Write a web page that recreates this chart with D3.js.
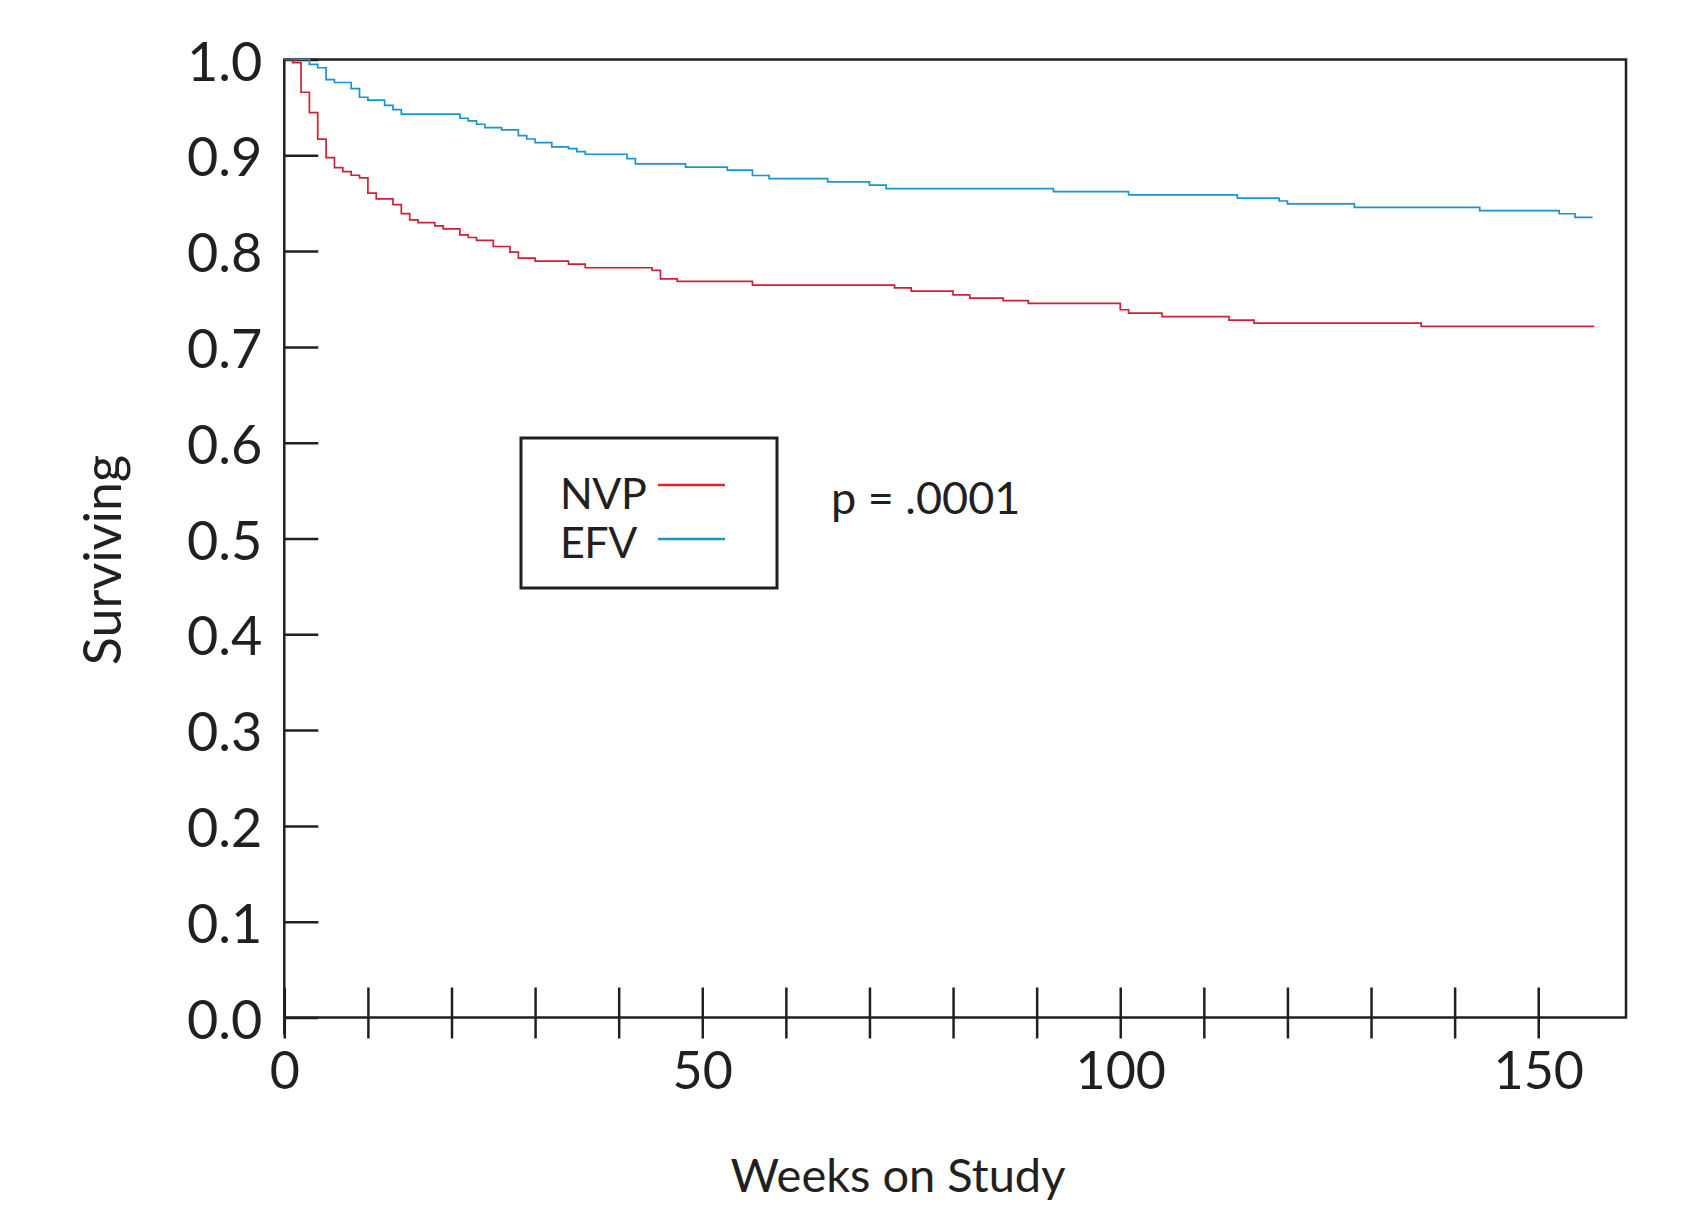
<!DOCTYPE html>
<html>
<head>
<meta charset="utf-8">
<script src="https://cdn.jsdelivr.net/npm/d3@7"></script>
<style>
  body { margin: 0; background: #fff; }
  text { font-family: Lato, "DejaVu Sans", sans-serif; fill: #231f20; }
</style>
</head>
<body>
<div id="vis"></div>
<script>
const frame_width = 1681;
const frame_height = 1214;

// Kaplan-Meier steps (week of drop, survival after drop)
const nvp_weeks = [0, 1, 2, 3, 4, 5, 6, 7, 8, 9, 10, 11, 13, 14, 15, 16, 18, 19, 21, 22, 23, 25, 27, 28, 30, 34, 36,
  44, 45, 47, 56, 73, 75, 80, 82, 86, 89, 100, 101, 105, 113, 116, 136, 156.7];
const nvp_surv = [1.0, 0.9967, 0.9658, 0.9445, 0.9168, 0.8976, 0.8872, 0.883, 0.8792, 0.8764, 0.8605, 0.8545, 0.8486,
  0.8392, 0.8326, 0.8298, 0.8264, 0.8233, 0.817, 0.8142, 0.8111, 0.8048, 0.799, 0.7927, 0.7896, 0.7865, 0.7826,
  0.7798, 0.7711, 0.7683, 0.7645, 0.7617, 0.7583, 0.7544, 0.751, 0.7482, 0.7454, 0.7388, 0.7353, 0.7315, 0.728,
  0.7249, 0.7215, 0.7215];

const efv_weeks = [0, 3, 4, 5, 6, 8, 9, 10, 12, 13, 14, 21, 22, 23, 24, 26, 28, 29, 30, 32, 34, 35, 36, 41, 42, 48,
  53, 56, 58, 65, 70, 72, 92, 101, 114, 119, 120, 128, 143, 152.5, 154.4, 156.5];
const efv_surv = [1.0, 0.995, 0.9914, 0.979, 0.976, 0.9697, 0.9606, 0.9575, 0.9522, 0.9477, 0.9429, 0.9387, 0.9359,
  0.9324, 0.9289, 0.9265, 0.9205, 0.917, 0.9132, 0.9088, 0.907, 0.9039, 0.9011, 0.8966, 0.891, 0.8876, 0.8845,
  0.8789, 0.8757, 0.8723, 0.8688, 0.8653, 0.8621, 0.8586, 0.8554, 0.8523, 0.8492, 0.8457, 0.8422, 0.839, 0.8353,
  0.8353];

const y_ticks = [0, 0.1, 0.2, 0.3, 0.4, 0.5, 0.6, 0.7, 0.8, 0.9, 1.0];
const x_ticks = [0, 10, 20, 30, 40, 50, 60, 70, 80, 90, 100, 110, 120, 130, 140, 150];
const x_labels = [0, 50, 100, 150];

const plot = {left: 284.3, right: 1626, top: 59.5, bottom: 1017.5};
const ink = "#231f20";

const svg = d3.select("#vis")
  .append("svg")
    .attr("width", frame_width)
    .attr("height", frame_height);

const x_scale = d3.scaleLinear().domain([0, 160.5]).range([plot.left, plot.right]);
const y_scale = d3.scaleLinear().domain([0, 1]).range([plot.bottom, plot.top]);

// y axis: ticks point inward
const y_axis = svg.append("g")
  .attr("transform", "translate(" + plot.left + ",0)")
  .call(d3.axisLeft(y_scale).tickValues(y_ticks).tickSize(-34)
    .tickFormat(d3.format(".1f")));
y_axis.select(".domain").remove();
y_axis.selectAll("line").attr("stroke", ink).attr("stroke-width", 2.5);
y_axis.selectAll("text")
  .attr("font-size", "54px")
  .attr("text-anchor", "end")
  .attr("x", -22)
  .attr("dy", "0.38em");

// x axis: ticks cross the line
const x_axis = svg.append("g")
  .attr("transform", "translate(0," + plot.bottom + ")")
  .call(d3.axisBottom(x_scale).tickValues(x_ticks).tickSize(21)
    .tickFormat((d) => { return x_labels.includes(d) ? d : ""; }));
x_axis.select(".domain").remove();
x_axis.selectAll("line").attr("y1", -30).attr("stroke", ink).attr("stroke-width", 2.5);
x_axis.selectAll("text")
  .attr("font-size", "52px")
  .attr("y", 71.5)
  .attr("dy", 0);

// frame
svg.append("path")
  .attr("d", "M" + plot.left + "," + (plot.bottom + 17) + "V" + plot.top + "H" + plot.right +
    "V" + plot.bottom + "H" + plot.left)
  .attr("fill", "none")
  .attr("stroke", ink)
  .attr("stroke-width", 2.5);

// curves
const step = d3.line()
  .x((d) => { return x_scale(d[0]); })
  .y((d) => { return y_scale(d[1]); })
  .curve(d3.curveStepAfter);

svg.append("path")
  .datum(efv_weeks.map((w, i) => [w, efv_surv[i]]))
  .attr("d", step)
  .attr("fill", "none")
  .attr("stroke", "#1a94cc")
  .attr("stroke-width", 1.7);

svg.append("path")
  .datum(nvp_weeks.map((w, i) => [w, nvp_surv[i]]))
  .attr("d", step)
  .attr("fill", "none")
  .attr("stroke", "#cc2136")
  .attr("stroke-width", 1.7);

// legend
svg.append("rect")
  .attr("x", 521).attr("y", 438)
  .attr("width", 256).attr("height", 150)
  .attr("fill", "none")
  .attr("stroke", ink)
  .attr("stroke-width", 3);

svg.append("text").attr("x", 560).attr("y", 509).attr("font-size", "43px")
  .attr("letter-spacing", "-0.5px").text("NVP");
svg.append("text").attr("x", 560).attr("y", 558).attr("font-size", "43px")
  .attr("letter-spacing", "-0.5px").text("EFV");
svg.append("line").attr("x1", 658).attr("x2", 725).attr("y1", 485).attr("y2", 485)
  .attr("stroke", "#e8202a").attr("stroke-width", 2.5);
svg.append("line").attr("x1", 658).attr("x2", 725).attr("y1", 539).attr("y2", 539)
  .attr("stroke", "#1a94cc").attr("stroke-width", 2.5);

svg.append("text").attr("x", 831).attr("y", 514).attr("font-size", "45px").text("p = .0001");

// axis titles
svg.append("text")
  .attr("x", 898).attr("y", 1192)
  .attr("text-anchor", "middle")
  .attr("font-size", "47px")
  .text("Weeks on Study");

svg.append("text")
  .attr("transform", "translate(121,560) rotate(-90)")
  .attr("text-anchor", "middle")
  .attr("font-size", "52px")
  .text("Surviving");
</script>
</body>
</html>
